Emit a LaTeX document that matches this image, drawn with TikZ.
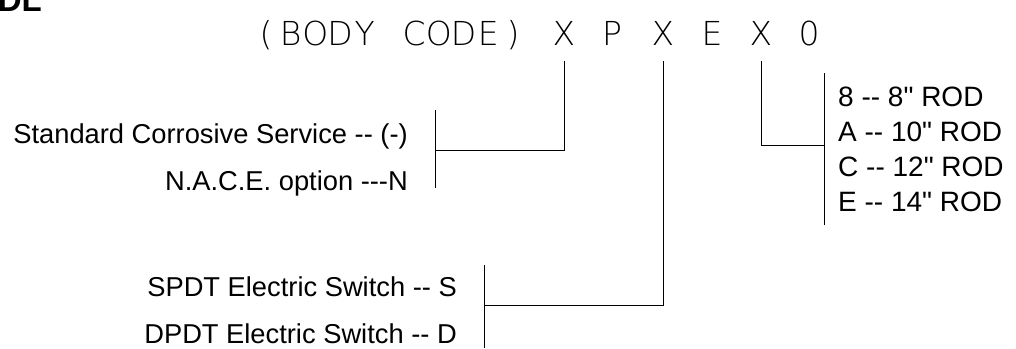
\documentclass[tikz,border=0pt]{standalone}
\usepackage{fontspec}
\setmainfont{Liberation Sans}[Ligatures=TeXOff]
\newfontfamily\cadfont{DejaVu Sans ExtraLight}[Ligatures=TeXOff]
\usetikzlibrary{arrows.meta}

\begin{document}
\begin{tikzpicture}[x=1pt,y=-1pt]
\useasboundingbox (0,0) rectangle (1016,348);

% heading, cut at the top edge
\node[inner sep=0pt,anchor=base east,font=\bfseries\fontsize{33}{33}\selectfont] (heading) at (42,12) {DL};

\begin{scope}[every node/.style={inner sep=0pt,anchor=base,font=\cadfont\fontsize{33}{33}\selectfont}]
    \foreach \ch [count=\i from 0] in {{(},B,O,D,Y,{},C,O,D,E,{)}}
        \node (hd\i) at (266+24.7*\i,45) {\ch};
    \node (selA) at (564,45) {X};
    \node (pcode) at (612,45) {P};
    \node (selB) at (663,45) {X};
    \node (ecode) at (712,45) {E};
    \node (selC) at (761,45) {X};
    \node (zcode) at (809,45) {0};
\end{scope}

\begin{scope}[every node/.style={inner sep=0pt,font=\fontsize{27.3}{30}\selectfont}]
    \node[anchor=base east] (std)  at (408,143) {Standard Corrosive Service -- (-)};
    \node[anchor=base east] (nace) at (408,190) {N.A.C.E. option ---N};
    \node[anchor=base east] (spdt) at (457,296) {SPDT Electric Switch -- S};
    \node[anchor=base east] (dpdt) at (457,343) {DPDT Electric Switch -- D};
\end{scope}

\begin{scope}[every node/.style={inner sep=0pt,anchor=base west,font=\fontsize{28}{30}\selectfont}]
    \node (rodA) at (838,106) {8 -- 8" ROD};
    \node (rodB) at (838,141) {A -- 10" ROD};
    \node (rodC) at (838,176) {C -- 12" ROD};
    \node (rodD) at (838,211) {E -- 14" ROD};
\end{scope}

% brackets
\coordinate (footA) at (564,61);
\coordinate (footB) at (663,61);
\coordinate (footC) at (761,61);
\coordinate (brA1) at (435,110);
\coordinate (brA2) at (435,188);
\coordinate (brAm) at (435,150);
\coordinate (brB1) at (484,265);
\coordinate (brB2) at (484,348);
\coordinate (brBm) at (484,305);
\coordinate (brC1) at (824,73);
\coordinate (brC2) at (824,225);
\coordinate (brCm) at (824,145);

\begin{scope}[every path/.style={draw=black,line width=0.9pt}]
    \path [-] (brA1) -- (brA2);
    \path [-] (footA) |- (brAm);
    \path [-] (brB1) -- (brB2);
    \path [-] (footB) |- (brBm);
    \path [-] (brC1) -- (brC2);
    \path [-] (footC) |- (brCm);
\end{scope}
\end{tikzpicture}
\end{document}
